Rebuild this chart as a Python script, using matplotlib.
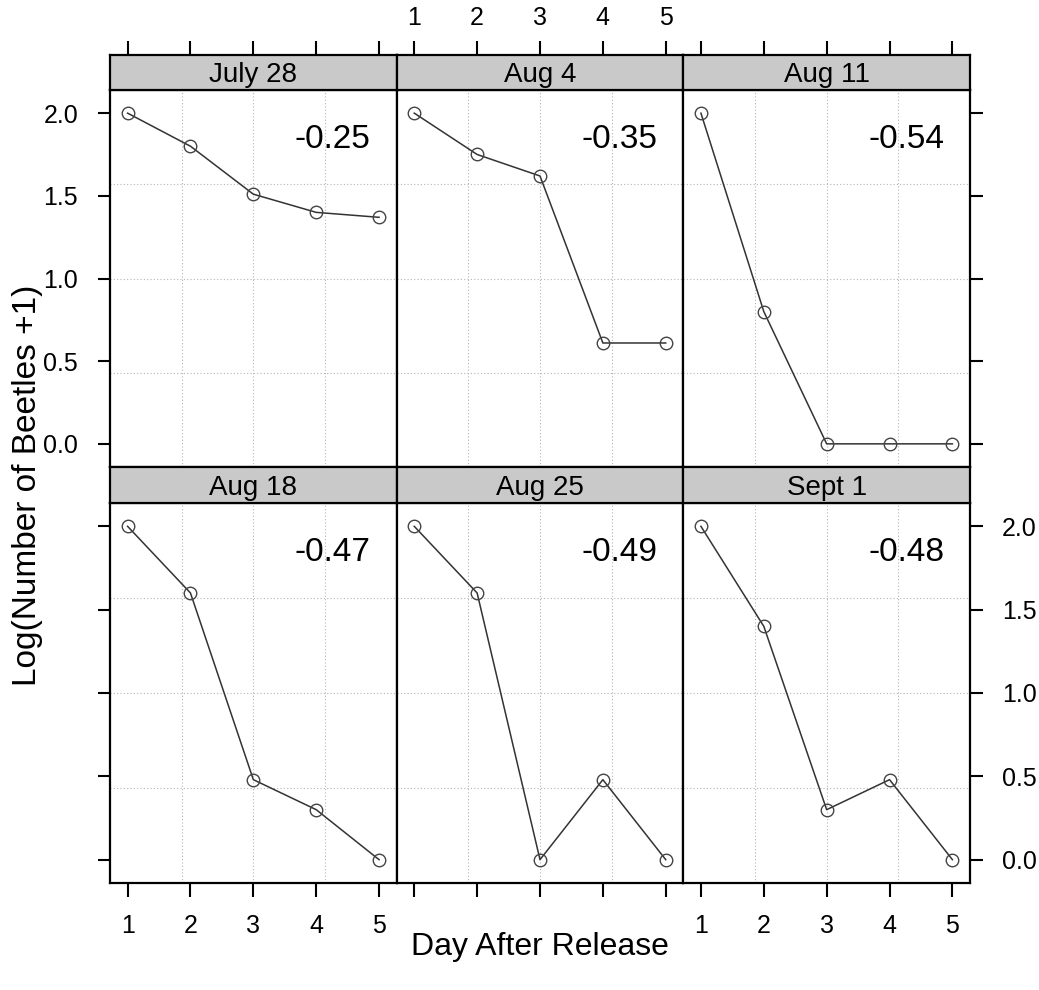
import matplotlib
matplotlib.use("Agg")
import matplotlib.pyplot as plt
from matplotlib.ticker import FormatStrFormatter

plt.rcParams['font.family'] = ['Liberation Sans', 'DejaVu Sans']

# --- DATA ---
days = [1, 2, 3, 4, 5]
panel_titles = ["July 28", "Aug 4", "Aug 11", "Aug 18", "Aug 25", "Sept 1"]
july28 = [2.00, 1.80, 1.51, 1.40, 1.37]
aug4 = [2.00, 1.75, 1.62, 0.61, 0.61]
aug11 = [2.00, 0.80, 0.00, 0.00, 0.00]
aug18 = [2.00, 1.60, 0.48, 0.30, 0.00]
aug25 = [2.00, 1.60, 0.00, 0.48, 0.00]
sept1 = [2.00, 1.40, 0.30, 0.48, 0.00]
slopes = ["-0.25", "-0.35", "-0.54", "-0.47", "-0.49", "-0.48"]
series = [july28, aug4, aug11, aug18, aug25, sept1]
y_ticks = [0.0, 0.5, 1.0, 1.5, 2.0]

W, H = 1039, 990
fig = plt.figure(figsize=(W / 100, H / 100), dpi=100)

# --- LAYOUT (pixels) ---
left, right = 110, 970
colw = (right - left) / 3
rows = [(55, 90, 467), (467, 503, 883)]  # strip top, panel top, panel bottom
xlim = (0.72, 5.28)

tick_fs = 18
for i, (title, vals, slope) in enumerate(zip(panel_titles, series, slopes)):
    r, c = divmod(i, 3)
    st, pt, pb = rows[r]
    x0 = left + c * colw
    ax = fig.add_axes([x0 / W, 1 - pb / H, colw / W, (pb - pt) / H])
    sax = fig.add_axes([x0 / W, 1 - pt / H, colw / W, (pt - st) / H])

    # strip
    sax.set_facecolor('#c9c9c9')
    sax.set_xlim(*xlim)
    sax.set_yticks([])
    for sp in sax.spines.values():
        sp.set_linewidth(1.6)
    sax.text(0.5, 0.42, title, transform=sax.transAxes, ha='center', va='center',
             fontsize=20)
    if r == 0:
        sax.set_xticks(days)
        sax.tick_params(axis='x', direction='out', length=10, width=1.5,
                        top=True, bottom=False, labelbottom=False,
                        labeltop=(c == 1), labelsize=tick_fs, pad=8)
    else:
        sax.set_xticks([])

    # panel grid at quarters of the panel
    for f in (0.25, 0.5, 0.75):
        ax.plot([f, f], [0, 1], transform=ax.transAxes, color='#b5b5b5',
                lw=0.8, ls=(0, (1, 2)), zorder=0)
        ax.plot([0, 1], [f, f], transform=ax.transAxes, color='#b5b5b5',
                lw=0.8, ls=(0, (1, 2)), zorder=0)

    ax.plot(days, vals, color='#333333', lw=1.1, marker='o', markersize=9,
            markerfacecolor='none', markeredgecolor='#444444', markeredgewidth=1.0)
    ax.text(0.91, 0.87, slope, transform=ax.transAxes, ha='right', va='center',
            fontsize=24)

    ax.set_xlim(*xlim)
    ax.set_ylim(-0.14, 2.14)
    ax.set_xticks(days)
    ax.set_yticks(y_ticks)
    for sp in ax.spines.values():
        sp.set_linewidth(1.6)

    # lattice-style alternating labels
    ax.tick_params(axis='x', direction='out', length=10, width=1.5,
                   top=False, bottom=(r == 1), labeltop=False,
                   labelbottom=(r == 1 and c != 1), labelsize=tick_fs, pad=12)
    ax.tick_params(axis='y', direction='out', length=9, width=1.5,
                   left=(c == 0), right=(c == 2),
                   labelleft=(r == 0 and c == 0), labelright=(r == 1 and c == 2),
                   labelsize=tick_fs, pad=14)
    ax.yaxis.set_major_formatter(FormatStrFormatter('%.1f'))

fig.text(540 / W, 1 - 947 / H, "Day After Release", ha='center', va='center',
         fontsize=23)
fig.text(28 / W, 1 - 485 / H, "Log(Number of Beetles +1)", ha='center',
         va='center', rotation=90, fontsize=24)

fig.savefig("out.png", dpi=100)
